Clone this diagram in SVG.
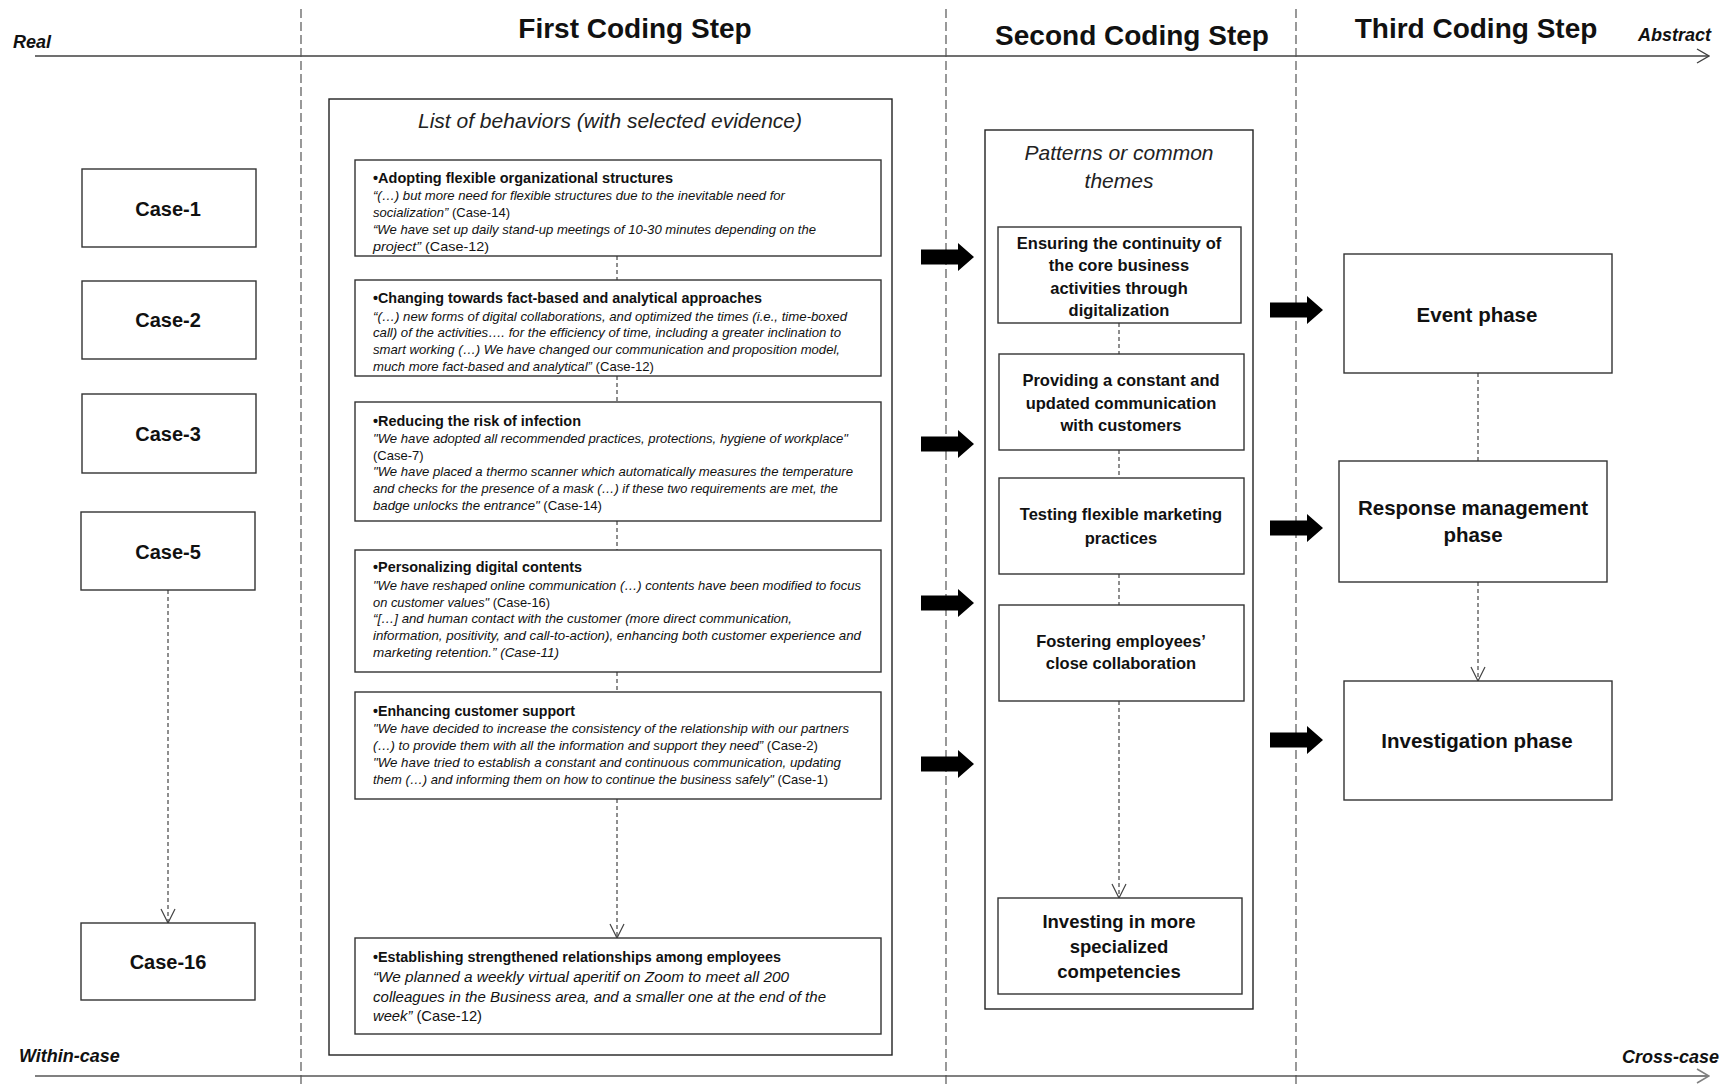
<svg xmlns="http://www.w3.org/2000/svg" width="1731" height="1086" viewBox="0 0 1731 1086">
<style>
  text { font-family: "Liberation Sans", Arial, sans-serif; fill: #111; }
  .hdr { font-size: 28px; font-weight: bold; text-anchor: middle; }
  .axl { font-size: 18px; font-weight: bold; font-style: italic; }
  .box { fill: #fff; stroke: #333; stroke-width: 1.4; }
  .frame { fill: #fff; stroke: #222; stroke-width: 1.4; }
  .case { font-size: 20px; font-weight: bold; text-anchor: middle; }
  .sub { font-size: 21px; font-style: italic; text-anchor: middle; fill: #222; }
  .t2 { font-size: 16.5px; font-weight: bold; text-anchor: middle; }
  .t3 { font-size: 20.5px; font-weight: bold; text-anchor: middle; }
  .bt { font-size: 15px; font-weight: bold; }
  .ev { font-size: 13px; font-style: italic; }
  .ev2 { font-size: 15px; font-style: italic; }
  .n { font-style: normal; }
  .div { stroke: #555; stroke-width: 1.2; stroke-dasharray: 9 4; fill: none; }
  .con { stroke: #444; stroke-width: 1.2; stroke-dasharray: 4 3; fill: none; }
  .conA { stroke: #444; stroke-width: 1.2; stroke-dasharray: 4 3; fill: none; marker-end: url(#open); }
  .blk { fill: #000; }
</style>
<defs>
  <marker id="open" viewBox="0 0 16 16" refX="15" refY="8" markerWidth="16" markerHeight="16" markerUnits="userSpaceOnUse" orient="auto">
    <path d="M1,1 L15,8 L1,15" fill="none" stroke="#444" stroke-width="1.2"/>
  </marker>
  <marker id="axA" viewBox="0 0 14 16" refX="13" refY="8" markerWidth="14" markerHeight="16" markerUnits="userSpaceOnUse" orient="auto">
    <path d="M1,1 L13,8 L1,15" fill="none" stroke="#404040" stroke-width="1.4"/>
  </marker>
  <marker id="axB" viewBox="0 0 14 16" refX="13" refY="8" markerWidth="14" markerHeight="16" markerUnits="userSpaceOnUse" orient="auto">
    <path d="M1,1 L13,8 L1,15" fill="none" stroke="#808080" stroke-width="1.6"/>
  </marker>
  <path id="blkArrow" d="M0,-7.5 H37 V-14 L53,0 L37,14 V7.5 H0 Z"/>
</defs>

<rect x="0" y="0" width="1731" height="1086" fill="#fff"/>

<!-- axes and column dividers -->
<g id="axes">
  <line x1="35" y1="56" x2="1709" y2="56" stroke="#404040" stroke-width="1.5" marker-end="url(#axA)"/>
  <line x1="35" y1="1076" x2="1709" y2="1076" stroke="#808080" stroke-width="2" marker-end="url(#axB)"/>
  <line class="div" x1="301" y1="9" x2="301" y2="1086"/>
  <line class="div" x1="946" y1="9" x2="946" y2="1086"/>
  <line class="div" x1="1296" y1="9" x2="1296" y2="1086"/>
  <text class="axl" x="13" y="48">Real</text>
  <text class="axl" x="1711" y="41" text-anchor="end">Abstract</text>
  <text class="axl" x="19" y="1062">Within-case</text>
  <text class="axl" x="1719" y="1063" text-anchor="end">Cross-case</text>
  <text class="hdr" x="635" y="38">First Coding Step</text>
  <text class="hdr" x="1132" y="45">Second Coding Step</text>
  <text class="hdr" x="1476" y="38">Third Coding Step</text>
</g>

<!-- frames -->
<g id="frame-behaviors">
  <rect class="frame" x="329" y="99" width="563" height="956"/>
  <text class="sub" x="610" y="128">List of behaviors (with selected evidence)</text>
</g>
<g id="frame-patterns">
  <rect class="frame" x="985" y="130" width="268" height="879"/>
  <text class="sub" x="1119" y="160">Patterns or common</text>
  <text class="sub" x="1119" y="188">themes</text>
</g>

<!-- connectors -->
<g id="connectors">
  <line class="conA" x1="168" y1="590" x2="168" y2="923"/>
  <line class="con" x1="617" y1="256" x2="617" y2="280"/>
  <line class="con" x1="617" y1="376" x2="617" y2="402"/>
  <line class="con" x1="617" y1="521" x2="617" y2="550"/>
  <line class="con" x1="617" y1="672" x2="617" y2="692"/>
  <line class="conA" x1="617" y1="799" x2="617" y2="938"/>
  <line class="con" x1="1119" y1="323" x2="1119" y2="354"/>
  <line class="con" x1="1119" y1="450" x2="1119" y2="478"/>
  <line class="con" x1="1119" y1="574" x2="1119" y2="605"/>
  <line class="conA" x1="1119" y1="701" x2="1119" y2="898"/>
  <line class="con" x1="1478" y1="373" x2="1478" y2="461"/>
  <line class="conA" x1="1478" y1="582" x2="1478" y2="681"/>
  <use href="#blkArrow" class="blk" x="921" y="257"/>
  <use href="#blkArrow" class="blk" x="921" y="444"/>
  <use href="#blkArrow" class="blk" x="921" y="603"/>
  <use href="#blkArrow" class="blk" x="921" y="764"/>
  <use href="#blkArrow" class="blk" x="1270" y="310"/>
  <use href="#blkArrow" class="blk" x="1270" y="528"/>
  <use href="#blkArrow" class="blk" x="1270" y="740"/>
</g>

<!-- cases -->
<g id="case-1"><rect class="box" x="82" y="169" width="174" height="78"/><text class="case" x="168" y="216">Case-1</text></g>
<g id="case-2"><rect class="box" x="82" y="281" width="174" height="78"/><text class="case" x="168" y="327">Case-2</text></g>
<g id="case-3"><rect class="box" x="82" y="394" width="174" height="79"/><text class="case" x="168" y="441">Case-3</text></g>
<g id="case-5"><rect class="box" x="81" y="512" width="174" height="78"/><text class="case" x="168" y="559">Case-5</text></g>
<g id="case-16"><rect class="box" x="81" y="923" width="174" height="77"/><text class="case" x="168" y="969">Case-16</text></g>

<!-- behaviors -->
<g id="beh-1">
  <rect class="box" x="355" y="160" width="526" height="96"/>
  <text class="bt" x="373" y="183" textLength="300" lengthAdjust="spacingAndGlyphs">•Adopting flexible organizational structures</text>
  <text class="ev" x="373" y="199.5" textLength="412" lengthAdjust="spacingAndGlyphs">“(…) but more need for flexible structures due to the inevitable need for</text>
  <text class="ev" x="373" y="216.5" textLength="137" lengthAdjust="spacingAndGlyphs">socialization” <tspan class="n">(Case-14)</tspan></text>
  <text class="ev" x="373" y="233.5" textLength="443" lengthAdjust="spacingAndGlyphs">“We have set up daily stand-up meetings of 10-30 minutes depending on the</text>
  <text class="ev" x="373" y="250.5" textLength="116" lengthAdjust="spacingAndGlyphs">project” <tspan class="n">(Case-12)</tspan></text>
</g>
<g id="beh-2">
  <rect class="box" x="355" y="280" width="526" height="96"/>
  <text class="bt" x="373" y="303" textLength="389" lengthAdjust="spacingAndGlyphs">•Changing towards fact-based and analytical approaches</text>
  <text class="ev" x="373" y="320.5" textLength="474" lengthAdjust="spacingAndGlyphs">“(…) new forms of digital collaborations, and optimized the times (i.e., time-boxed</text>
  <text class="ev" x="373" y="337" textLength="468" lengthAdjust="spacingAndGlyphs">call) of the activities…. for the efficiency of time, including a greater inclination to</text>
  <text class="ev" x="373" y="354" textLength="467" lengthAdjust="spacingAndGlyphs">smart working (…) We have changed our communication and proposition model,</text>
  <text class="ev" x="373" y="371" textLength="281" lengthAdjust="spacingAndGlyphs">much more fact-based and analytical” <tspan class="n">(Case-12)</tspan></text>
</g>
<g id="beh-3">
  <rect class="box" x="355" y="402" width="526" height="119"/>
  <text class="bt" x="373" y="426" textLength="208" lengthAdjust="spacingAndGlyphs">•Reducing the risk of infection</text>
  <text class="ev" x="373" y="442.5" textLength="475" lengthAdjust="spacingAndGlyphs">"We have adopted all recommended practices, protections, hygiene of workplace"</text>
  <text class="ev" x="373" y="459.5"><tspan class="n">(Case-7)</tspan></text>
  <text class="ev" x="373" y="476" textLength="480" lengthAdjust="spacingAndGlyphs">"We have placed a thermo scanner which automatically measures the temperature</text>
  <text class="ev" x="373" y="493" textLength="465" lengthAdjust="spacingAndGlyphs">and checks for the presence of a mask (…) if these two requirements are met,  the</text>
  <text class="ev" x="373" y="510" textLength="229" lengthAdjust="spacingAndGlyphs">badge unlocks the entrance"  <tspan class="n">(Case-14)</tspan></text>
</g>
<g id="beh-4">
  <rect class="box" x="355" y="550" width="526" height="122"/>
  <text class="bt" x="373" y="572" textLength="209" lengthAdjust="spacingAndGlyphs">•Personalizing digital contents</text>
  <text class="ev" x="373" y="589.5" textLength="488" lengthAdjust="spacingAndGlyphs">"We have reshaped online communication (…) contents have been  modified to focus</text>
  <text class="ev" x="373" y="606.5" textLength="177" lengthAdjust="spacingAndGlyphs">on customer values" <tspan class="n">(Case-16)</tspan></text>
  <text class="ev" x="373" y="623" textLength="419" lengthAdjust="spacingAndGlyphs">“[…] and human contact with the customer (more direct communication,</text>
  <text class="ev" x="373" y="640" textLength="488" lengthAdjust="spacingAndGlyphs">information, positivity, and call-to-action), enhancing both customer experience and</text>
  <text class="ev" x="373" y="657" textLength="186" lengthAdjust="spacingAndGlyphs">marketing retention.” (Case-11)</text>
</g>
<g id="beh-5">
  <rect class="box" x="355" y="692" width="526" height="107"/>
  <text class="bt" x="373" y="716" textLength="202" lengthAdjust="spacingAndGlyphs">•Enhancing customer support</text>
  <text class="ev" x="373" y="733" textLength="476" lengthAdjust="spacingAndGlyphs">"We have decided to increase the consistency of the relationship with our partners</text>
  <text class="ev" x="373" y="750" textLength="445" lengthAdjust="spacingAndGlyphs">(…) to provide them with all the information and support they need” <tspan class="n">(Case-2)</tspan></text>
  <text class="ev" x="373" y="767" textLength="468" lengthAdjust="spacingAndGlyphs">"We have tried to establish a constant and continuous communication, updating</text>
  <text class="ev" x="373" y="784" textLength="455" lengthAdjust="spacingAndGlyphs">them (…) and informing them on how to continue the business safely" <tspan class="n">(Case-1)</tspan></text>
</g>
<g id="beh-6">
  <rect class="box" x="355" y="938" width="526" height="96"/>
  <text class="bt" x="373" y="962" textLength="408" lengthAdjust="spacingAndGlyphs">•Establishing strengthened relationships among employees</text>
  <text class="ev2" x="373" y="982" textLength="416" lengthAdjust="spacingAndGlyphs">“We planned a weekly virtual aperitif on Zoom to meet all 200</text>
  <text class="ev2" x="373" y="1002" textLength="453" lengthAdjust="spacingAndGlyphs">colleagues in the Business area, and a smaller one at the end of the</text>
  <text class="ev2" x="373" y="1021" textLength="109" lengthAdjust="spacingAndGlyphs">week” <tspan class="n">(Case-12)</tspan></text>
</g>

<!-- patterns -->
<g id="pat-1">
  <rect class="box" x="998" y="227" width="243" height="96"/>
  <text class="t2" x="1119" y="249">Ensuring the continuity of</text>
  <text class="t2" x="1119" y="271">the core business</text>
  <text class="t2" x="1119" y="294">activities through</text>
  <text class="t2" x="1119" y="316">digitalization</text>
</g>
<g id="pat-2">
  <rect class="box" x="999" y="354" width="245" height="96"/>
  <text class="t2" x="1121" y="386">Providing a constant and</text>
  <text class="t2" x="1121" y="409">updated communication</text>
  <text class="t2" x="1121" y="431">with customers</text>
</g>
<g id="pat-3">
  <rect class="box" x="999" y="478" width="245" height="96"/>
  <text class="t2" x="1121" y="520">Testing flexible marketing</text>
  <text class="t2" x="1121" y="544">practices</text>
</g>
<g id="pat-4">
  <rect class="box" x="999" y="605" width="245" height="96"/>
  <text class="t2" x="1121" y="647">Fostering employees’</text>
  <text class="t2" x="1121" y="669">close collaboration</text>
</g>
<g id="pat-5">
  <rect class="box" x="998" y="898" width="244" height="96"/>
  <text class="t2" x="1119" y="927.5" style="font-size:18.5px">Investing in more</text>
  <text class="t2" x="1119" y="952.5" style="font-size:18.5px">specialized</text>
  <text class="t2" x="1119" y="977.5" style="font-size:18.5px">competencies</text>
</g>

<!-- phases -->
<g id="phase-event">
  <rect class="box" x="1344" y="254" width="268" height="119"/>
  <text class="t3" x="1477" y="322">Event phase</text>
</g>
<g id="phase-response">
  <rect class="box" x="1339" y="461" width="268" height="121"/>
  <text class="t3" x="1473" y="515">Response management</text>
  <text class="t3" x="1473" y="542">phase</text>
</g>
<g id="phase-investigation">
  <rect class="box" x="1344" y="681" width="268" height="119"/>
  <text class="t3" x="1477" y="748">Investigation phase</text>
</g>
</svg>
